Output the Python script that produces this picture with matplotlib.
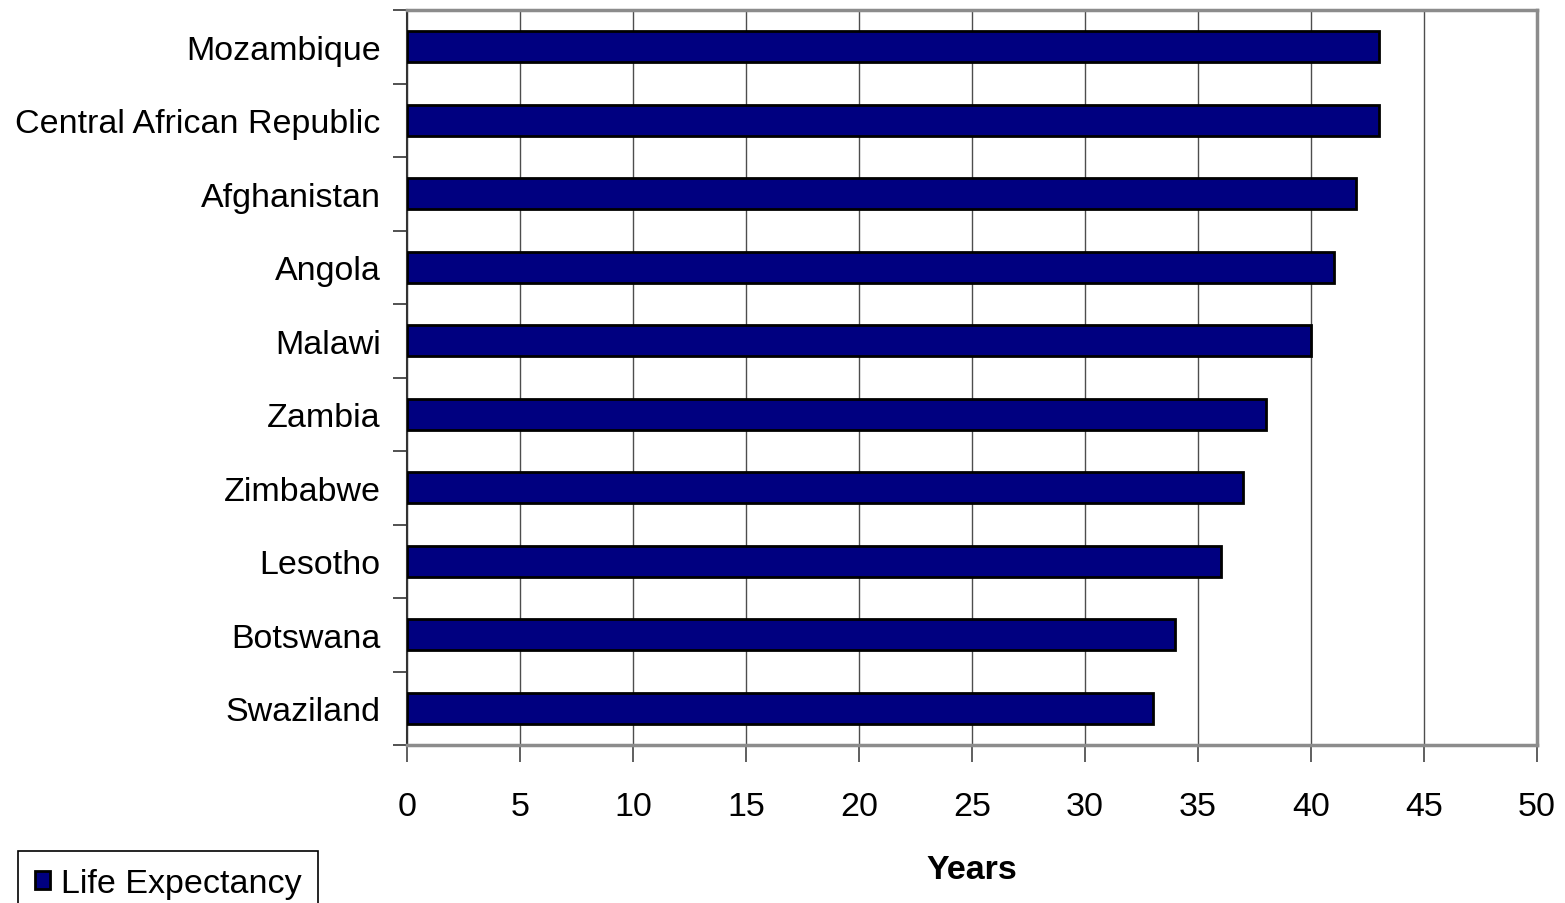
import matplotlib
matplotlib.use("Agg")
import matplotlib.pyplot as plt
import numpy as np

plt.rcParams['font.family'] = ['Liberation Sans', 'DejaVu Sans']

countries = ["Mozambique", "Central African Republic", "Afghanistan", "Angola",
             "Malawi", "Zambia", "Zimbabwe", "Lesotho", "Botswana", "Swaziland"]
life_expectancy = [43, 43, 42, 41, 40, 38, 37, 36, 34, 33]
x_ticks = [0, 5, 10, 15, 20, 25, 30, 35, 40, 45, 50]

fig = plt.figure(figsize=(15.65, 9.04), dpi=100)
ax = fig.add_axes([407 / 1565, 1 - 746 / 904, 1130 / 1565, 735 / 904])

pos = np.arange(len(countries))
bars = ax.barh(pos, life_expectancy, height=0.42, color="#000080",
               edgecolor="black", linewidth=2, zorder=3, label="Life Expectancy")

ax.set_xlim(0, 50)
ax.set_ylim(len(countries) - 0.5, -0.5)

# Gridlines at every x tick
ax.set_xticks(x_ticks)
ax.set_xticklabels([str(t) for t in x_ticks], fontsize=24.5)
ax.grid(axis="x", color="#4d4d4d", linewidth=1, zorder=0)

# Category labels at bar centres, tick marks between categories
ax.set_yticks(np.arange(-0.5, len(countries), 1.0))
ax.set_yticklabels([])
ax.set_yticks(pos, minor=True)
ax.set_yticklabels(countries, minor=True, fontsize=24.5)
ax.tick_params(axis="y", which="major", length=10, width=1.2, color="#333333", direction="out")
ax.tick_params(axis="y", which="minor", length=0, pad=19)
ax.tick_params(axis="x", which="major", length=12, width=1.2, color="#444444", direction="out", pad=21)

for side in ["top", "right", "bottom"]:
    ax.spines[side].set_color("#8c8c8c")
    ax.spines[side].set_linewidth(2.5)
ax.spines["left"].set_color("#333333")
ax.spines["left"].set_linewidth(1.5)

ax.set_xlabel("Years", fontsize=24.5, fontweight="bold", labelpad=23)

leg = fig.legend(handles=[bars], labels=["Life Expectancy"], loc="upper left",
                 bbox_to_anchor=(18 / 1565, 1 - 852 / 904), fontsize=24.5,
                 frameon=True, fancybox=False, framealpha=1, edgecolor="black",
                 borderpad=0.5, handlelength=0.45, handleheight=0.45, handletextpad=0.3,
                 borderaxespad=0)
leg.get_frame().set_linewidth(1.2)

fig.savefig("out.png", dpi=100)
